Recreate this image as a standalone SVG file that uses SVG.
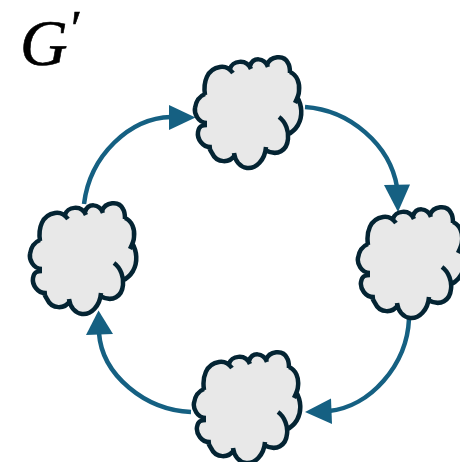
<svg xmlns="http://www.w3.org/2000/svg" width="460" height="462" viewBox="0 0 460 462">
  <style>
    .edge{fill:none;stroke:#156082;stroke-width:4.5}
    .head{fill:#156082;stroke:none}
    .fill{fill:#e8e8e8;stroke:none}
    .line{fill:none;stroke:#042433;stroke-width:4.5;stroke-linecap:butt;stroke-linejoin:round}
    .lbl{font-family:"Liberation Serif","DejaVu Serif",serif;font-style:italic;fill:#000;stroke:#000;stroke-width:.6}
  </style>
  <defs>
    <g id="cloud">
      <path class="fill" d="M25,55 C23,42 27,29 40,27 C46,26 50,29 52,31 C54,21 66,18 70,27 C73,17 84,17 88,26 C90,16 104,14 108,23 C110,26 110,29 110,32 C117,35 120,43 119,51 C122,65 123,76 118,85 C115,90 111,93 107,95 C108,107 98,117 86,112 C85,120 76,129 67,128 C60,127 55,121 55,115 C50,123 37,124 32,113 C30,110 29,108 31,107 C22,108 17,98 18,92 C19,86 22,85 27,84 C18,83 14,73 15,68 C16,61 20,56 25,55Z"/>
      <path class="line" d="M25,55 C23,42 27,29 40,27 C46,26 50,29 53,33 M50,29 C52,21 66,18 71,29 M70,26 C73,17 84,17 88,27 M87,25 C90,16 104,14 108,23 C110,26 110,29 110,33 M110,32 C117,35 120,43 119,51 C119,55 117,59 115,63 M117,57 C122,65 123,76 118,85 C115,90 111,93 107,95 M99,77 C106,82 109,92 108,99 C107,110 98,117 85,110 M86,107 C85,120 76,129 67,128 C60,127 55,121 54,113 M55,115 C50,123 37,124 32,113 C30,110 29,108 29,106 M32,107 C22,108 17,98 18,92 C19,86 22,85 27,85 M27,83 C18,83 14,73 15,68 C16,61 20,56 25,54"/>
    </g>
  </defs>
  <g id="connectors">
    <path class="edge" d="M84,204 C90,155 130,118 171,117"/>
    <path class="head" d="M195.500,117.500 L169,105 L169,130Z"/>
    <path class="edge" d="M305,107 C350,110 390,145 397,187"/>
    <path class="head" d="M398,212 L384,185 L410,184.500Z"/>
    <path class="edge" d="M409,319 C407,365 370,407 329,411"/>
    <path class="head" d="M305,412 L331,398.500 L332,424Z"/>
    <path class="edge" d="M191,412 C145,410 102,375 99,333"/>
    <path class="head" d="M98.500,310.500 L86,335 L113,334Z"/>
  </g>
  <g id="node-top"><use href="#cloud" transform="translate(180,40)"/></g>
  <g id="node-right"><use href="#cloud" transform="translate(343,190)"/></g>
  <g id="node-bottom"><use href="#cloud" transform="translate(179,335)"/></g>
  <g id="node-left"><use href="#cloud" transform="translate(15,186)"/></g>
  <g id="title"><text class="lbl" x="20" y="65" font-size="66">G</text><text class="lbl" x="68" y="45" font-size="50">′</text></g>
</svg>
